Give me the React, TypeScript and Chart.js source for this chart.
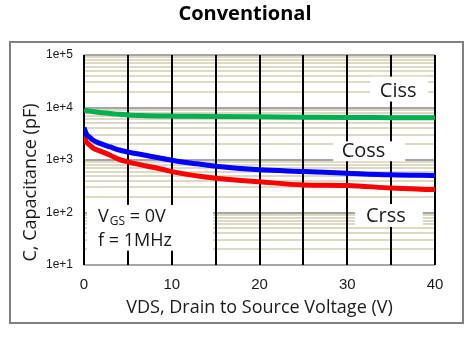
import React, { useEffect, useRef } from 'react';
import { Chart, registerables } from 'chart.js';

Chart.register(...registerables);

// ---- text ----
const TITLE = 'Conventional';
const X_TITLE = 'VDS, Drain to Source Voltage (V)';
const Y_TITLE = 'C, Capacitance (pF)';

// ---- data ----
const VDS = [0, 0.3, 0.7, 1, 1.8, 3, 4, 5, 7, 8.5, 10, 12.5, 15, 20, 25, 30, 35, 40];
const CISS = [8900, 8700, 8500, 8350, 8000, 7700, 7400, 7200, 7000, 6900, 6850, 6800, 6750, 6650, 6550, 6450, 6400, 6350];
const COSS = [4100, 3100, 2670, 2400, 2070, 1770, 1550, 1420, 1230, 1100, 990, 860, 760, 650, 605, 560, 522, 505];
const CRSS = [2800, 2200, 1900, 1700, 1490, 1230, 1030, 920, 775, 690, 600, 510, 450, 385, 335, 328, 292, 273];

// ---- axes ----
const X_GRID = [0, 5, 10, 15, 20, 25, 30, 35, 40];
const X_LABELED = [0, 10, 20, 30, 40];
const Y_DECADES = [10, 100, 1000, 10000, 100000];
const Y_DECADE_LABELS = ['1e+1', '1e+2', '1e+3', '1e+4', '1e+5'];
const Y_MINOR_STEPS = [2, 3, 4, 5, 6, 7, 8, 9];

// ---- annotations (data coordinates) ----
const CURVE_NAMES = ['Ciss', 'Coss', 'Crss'];
const CURVE_NAME_X = [35.8, 31.85, 34.4];
const CURVE_NAME_Y = [20100, 1464, 86];
const NOTE_BOX_X = [[32.6, 39.2], [28.4, 36.6], [30.9, 38.6], [0.34, 14.7]];
const NOTE_BOX_Y = [[13000, 38700], [946, 2270], [53, 145], [18.7, 139.5]];
const COND_X = 1.6;
const COND_Y = [66, 23.4];

const SANS = "'Open Sans', 'Noto Sans', sans-serif";
const ARIAL = "'Liberation Sans', Arial, sans-serif";
const TEXT = '#1a1a1a';

const yGridValues: number[] = [];
Y_DECADES.forEach((d, i) => {
  yGridValues.push(d);
  if (i < Y_DECADES.length - 1) Y_MINOR_STEPS.forEach((m) => yGridValues.push(m * d));
});

const notesPlugin = {
  id: 'notes',
  beforeDatasetsDraw(chart: any) {
    const { ctx, scales } = chart;
    const xs = scales.x;
    const ys = scales.y;
    ctx.save();
    ctx.fillStyle = '#ffffff';
    NOTE_BOX_X.forEach((bx, i) => {
      const x1 = xs.getPixelForValue(bx[0]);
      const x2 = xs.getPixelForValue(bx[1]);
      const y1 = ys.getPixelForValue(NOTE_BOX_Y[i][1]);
      const y2 = ys.getPixelForValue(NOTE_BOX_Y[i][0]);
      ctx.fillRect(x1, y1, x2 - x1, y2 - y1);
    });
    ctx.fillStyle = TEXT;
    ctx.font = `20px ${SANS}`;
    ctx.textAlign = 'center';
    ctx.textBaseline = 'middle';
    CURVE_NAMES.forEach((n, i) => {
      ctx.fillText(n, xs.getPixelForValue(CURVE_NAME_X[i]), ys.getPixelForValue(CURVE_NAME_Y[i]));
    });
    // conditions
    ctx.textAlign = 'left';
    ctx.textBaseline = 'alphabetic';
    let x = xs.getPixelForValue(COND_X);
    const b1 = ys.getPixelForValue(COND_Y[0]);
    const b2 = ys.getPixelForValue(COND_Y[1]);
    ctx.font = `18px ${SANS}`;
    ctx.fillText('V', x, b1);
    x += ctx.measureText('V').width + 1;
    ctx.font = `12px ${SANS}`;
    ctx.fillText('GS', x, b1 + 3);
    x += ctx.measureText('GS').width;
    ctx.font = `18px ${SANS}`;
    ctx.fillText(' = 0V', x, b1);
    ctx.fillText('f = 1MHz', xs.getPixelForValue(COND_X), b2);
    ctx.restore();
  },
  afterDraw(chart: any) {
    const { ctx } = chart;
    ctx.save();
    // chart title
    ctx.fillStyle = '#000';
    ctx.font = `bold 20px ${SANS}`;
    ctx.textAlign = 'center';
    ctx.textBaseline = 'middle';
    ctx.fillText(TITLE, 245, 14);
    // frame
    ctx.strokeStyle = '#808080';
    ctx.lineWidth = 2;
    ctx.strokeRect(10, 42, 453, 281);
    // y axis title
    ctx.fillStyle = TEXT;
    ctx.font = `18px ${SANS}`;
    ctx.translate(31, 182.5);
    ctx.rotate(-Math.PI / 2);
    ctx.fillText(Y_TITLE, 0, 0);
    ctx.restore();
  },
};

export default function App() {
  const ref = useRef<HTMLCanvasElement>(null);
  useEffect(() => {
    const canvas = ref.current!;
    const mk = (arr: number[]) => VDS.map((v, i) => ({ x: v, y: arr[i] }));
    const common = {
      borderWidth: 5,
      pointRadius: 0,
      cubicInterpolationMode: 'monotone' as const,
      fill: false,
    };
    const chart = new Chart(canvas, {
      type: 'line',
      data: {
        datasets: [
          { label: 'Ciss', data: mk(CISS), borderColor: '#00b050', ...common },
          { label: 'Coss', data: mk(COSS), borderColor: '#0000ff', ...common },
          { label: 'Crss', data: mk(CRSS), borderColor: '#ff0000', ...common },
        ],
      },
      options: {
        responsive: false,
        animation: false,
        layout: { padding: { left: 0, right: 35, top: 55, bottom: 0 } },
        plugins: {
          legend: { display: false },
          tooltip: { enabled: false },
          title: { display: false },
        },
        scales: {
          y: {
            type: 'logarithmic',
            min: 10,
            max: 100000,
            afterBuildTicks: (s: any) => {
              s.ticks = yGridValues.map((v) => ({ value: v }));
            },
            afterFit: (s: any) => {
              s.width = 84;
            },
            border: { display: false },
            grid: {
              z: -2,
              lineWidth: 2,
              drawTicks: false,
              color: (c: any) => (Y_DECADES.includes(c.tick?.value) ? '#a6a6a6' : '#ddd9c3'),
            },
            ticks: {
              autoSkip: false,
              padding: 11,
              color: TEXT,
              font: { family: ARIAL, size: 12 },
              callback: (v: any) => {
                const i = Y_DECADES.indexOf(Number(v));
                return i >= 0 ? Y_DECADE_LABELS[i] : '';
              },
            },
          },
          x: {
            type: 'linear',
            min: 0,
            max: 40,
            afterBuildTicks: (s: any) => {
              s.ticks = X_GRID.map((v) => ({ value: v }));
            },
            afterFit: (s: any) => {
              s.height = 86;
            },
            border: { display: false },
            grid: { z: -1, lineWidth: 2, drawTicks: false, color: '#000' },
            ticks: {
              autoSkip: false,
              maxRotation: 0,
              padding: 11,
              color: TEXT,
              font: { family: ARIAL, size: 15 },
              callback: (v: any) => (X_LABELED.includes(Number(v)) ? String(v) : ''),
            },
            title: {
              display: true,
              text: X_TITLE,
              color: TEXT,
              font: { family: SANS, size: 18 },
              padding: { top: 0, bottom: 32.2 },
            },
          },
        },
      },
      plugins: [notesPlugin],
    });
    return () => chart.destroy();
  }, []);
  return (
    <div style={{ position: 'fixed', left: 0, top: 0, width: 470, height: 351, background: '#fff' }}>
      <canvas ref={ref} width={470} height={351} style={{ display: 'block' }} />
    </div>
  );
}
